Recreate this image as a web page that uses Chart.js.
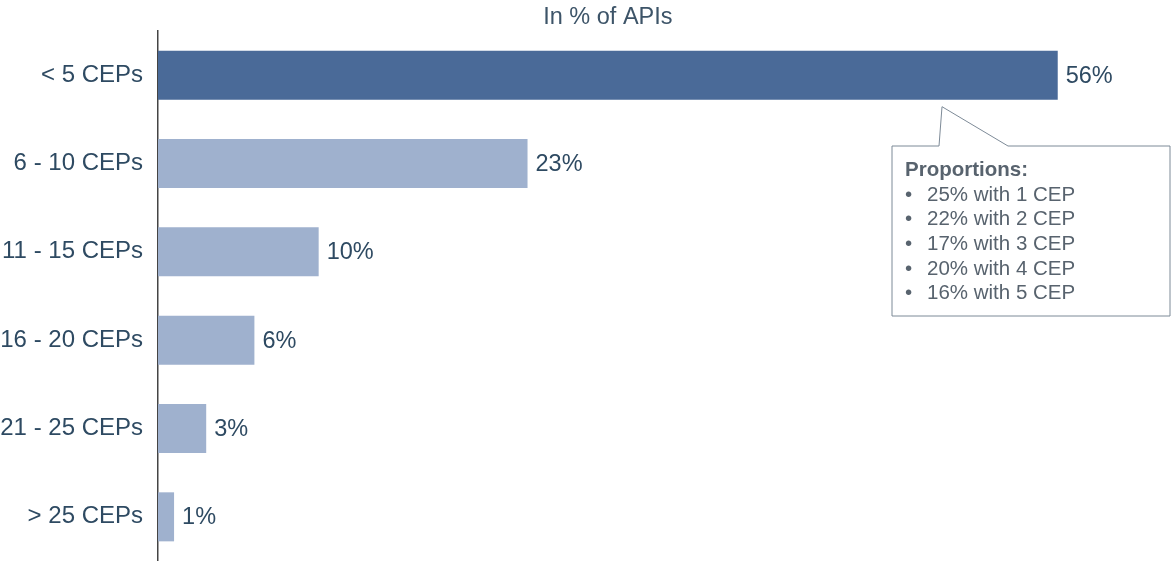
<!DOCTYPE html>
<html>
<head>
<meta charset="utf-8">
<script src="https://cdn.jsdelivr.net/npm/chart.js@4.4.1/dist/chart.umd.min.js"></script>
<style>
  body { margin: 0; background: #fff; }
</style>
</head>
<body>
<canvas id="ceps" width="1172" height="561"></canvas>
<script>
const categories = ["< 5 CEPs", "6 - 10 CEPs", "11 - 15 CEPs", "16 - 20 CEPs", "21 - 25 CEPs", "> 25 CEPs"];
const shares = [56, 23, 10, 6, 3, 1];
const barColors = ["#4a6a98", "#9fb1ce", "#9fb1ce", "#9fb1ce", "#9fb1ce", "#9fb1ce"];
const chartTitle = "In % of APIs";
const calloutTitle = "Proportions:";
const calloutLines = ["25% with 1 CEP", "22% with 2 CEP", "17% with 3 CEP", "20% with 4 CEP", "16% with 5 CEP"];

const FONT = "'Liberation Sans', Arial, sans-serif";
const TEXT = "#2e4a62";

// title centred over the span of the longest bar
const topTitle = {
  id: "topTitle",
  afterDraw(chart) {
    const ctx = chart.ctx;
    const x = chart.scales.x;
    const mid = (chart.chartArea.left + x.getPixelForValue(Math.max(...shares))) / 2;
    ctx.save();
    ctx.font = "23.5px " + FONT;
    ctx.fillStyle = "#3d5468";
    ctx.textAlign = "center";
    ctx.textBaseline = "middle";
    ctx.fillText(chartTitle, mid, 18);
    ctx.restore();
  }
};

// percentage at the end of each bar
const valueLabels = {
  id: "valueLabels",
  afterDatasetsDraw(chart) {
    const ctx = chart.ctx;
    const meta = chart.getDatasetMeta(0);
    ctx.save();
    ctx.font = "23.5px " + FONT;
    ctx.fillStyle = TEXT;
    ctx.textBaseline = "middle";
    ctx.textAlign = "left";
    meta.data.forEach((bar, i) => {
      ctx.fillText(shares[i] + "%", bar.x + 8, bar.y + 1);
    });
    ctx.restore();
  }
};

// speech-bubble box hanging off the first bar
const callout = {
  id: "callout",
  afterDraw(chart) {
    const ctx = chart.ctx;
    const bar = chart.getDatasetMeta(0).data[0];
    const tipX = 942, tipY = bar.y + bar.height / 2 + 7;
    const left = 892, top = 146, right = 1170, bottom = 316;
    ctx.save();
    ctx.beginPath();
    ctx.moveTo(left, top);
    ctx.lineTo(939, top);
    ctx.lineTo(tipX, tipY);
    ctx.lineTo(1008, top);
    ctx.lineTo(right, top);
    ctx.lineTo(right, bottom);
    ctx.lineTo(left, bottom);
    ctx.closePath();
    ctx.fillStyle = "#ffffff";
    ctx.fill();
    ctx.strokeStyle = "#7d8a97";
    ctx.lineWidth = 1;
    ctx.stroke();

    ctx.fillStyle = "#58636e";
    ctx.textBaseline = "middle";
    ctx.font = "bold 20.5px " + FONT;
    ctx.fillText(calloutTitle, 905, 170);
    ctx.font = "20.5px " + FONT;
    calloutLines.forEach((line, i) => {
      const y = 195 + i * 24.7;
      ctx.fillText("\u2022", 905, y);
      ctx.fillText(line, 927, y);
    });
    ctx.restore();
  }
};

new Chart(document.getElementById("ceps"), {
  type: "bar",
  data: {
    labels: categories,
    datasets: [{
      data: shares,
      backgroundColor: barColors,
      borderWidth: 0,
      barPercentage: 0.555,
      categoryPercentage: 1
    }]
  },
  options: {
    indexAxis: "y",
    responsive: false,
    animation: false,
    layout: { padding: { left: 0, right: 50, top: 31, bottom: 0 } },
    plugins: {
      legend: { display: false },
      tooltip: { enabled: false },
      title: { display: false }
    },
    scales: {
      x: { display: false, min: 0, max: 60 },
      y: {
        afterFit(scale) {
          scale.width = 158;
          scale.paddingTop = 0;
          scale.paddingBottom = 0;
        },
        grid: { display: false, drawTicks: false },
        border: { display: true, color: "#444444", width: 1.5 },
        ticks: {
          color: TEXT,
          padding: 15,
          font: { family: FONT, size: 24 }
        }
      }
    }
  },
  plugins: [valueLabels, topTitle, callout]
});
</script>
</body>
</html>
